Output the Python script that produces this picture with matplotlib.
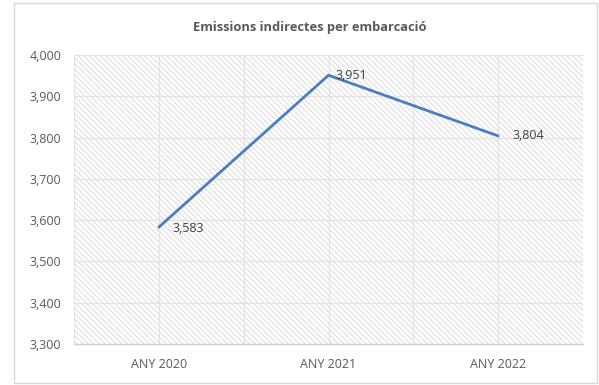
import matplotlib.pyplot as plt
from matplotlib.patches import Rectangle

# dades
anys = ['ANY 2020', 'ANY 2021', 'ANY 2022']
emissions = [3583, 3951, 3804]
etiquetes = ['3,583', '3,951', '3,804']

plt.rcParams['font.family'] = ['Open Sans', 'DejaVu Sans']
plt.rcParams['hatch.linewidth'] = 0.6

fig = plt.figure(figsize=(5.99, 3.85), dpi=100)
ax = fig.add_axes([74 / 599, 1 - 344 / 385, (583 - 74) / 599, (344 - 55) / 385])

# vora de la figura
fig.patches.append(Rectangle((14 / 599, 2 / 385), 583 / 599, 380 / 385, transform=fig.transFigure,
                             facecolor='none', edgecolor='#d9d9d9', lw=1))

# fons ratllat
ax.add_patch(Rectangle((0, 0), 1, 1, transform=ax.transAxes, facecolor='white',
                       edgecolor='#d6d6d6', hatch='\\\\\\\\\\\\', lw=0, zorder=0))

x = list(range(len(anys)))
ax.plot(x, emissions, color='#4a7dc4', lw=2.0, zorder=3, solid_capstyle='round')

offsets = [(10, -1), (5, 0), (10, 0)]
for xi, v, t, off in zip(x, emissions, etiquetes, offsets):
    ax.annotate(t, (xi, v), xytext=off, textcoords='offset points', fontsize=9,
                color='#404040', ha='left', va='center', zorder=4)

ax.set_xlim(-0.5, 2.5)
ax.set_ylim(3300, 4000)
ax.set_yticks(range(3300, 4001, 100))
ax.set_yticklabels([f'{v:,}' for v in range(3300, 4001, 100)])
ax.set_xticks(x)
ax.set_xticklabels(anys)

# línies de quadrícula
for yv in range(3400, 4001, 100):
    ax.axhline(yv, color='#e3e3e3', lw=0.9, zorder=1)
for xv in [-0.5, 0, 0.5, 1, 1.5, 2, 2.5]:
    ax.axvline(xv, color='#e3e3e3', lw=0.9, zorder=1)

for s in ['top', 'right', 'left']:
    ax.spines[s].set_visible(False)
ax.spines['bottom'].set_color('#d0d0d0')
ax.spines['bottom'].set_linewidth(1)
ax.tick_params(length=0, labelsize=9, labelcolor='#595959')
ax.tick_params(axis='x', pad=10)
ax.tick_params(axis='y', pad=9)

fig.text(310 / 599, 1 - 27 / 385, 'Emissions indirectes per embarcació', ha='center', va='center',
         fontsize=9.3, fontweight='bold', color='#595959')

fig.savefig('out.png', dpi=100, facecolor='white')
